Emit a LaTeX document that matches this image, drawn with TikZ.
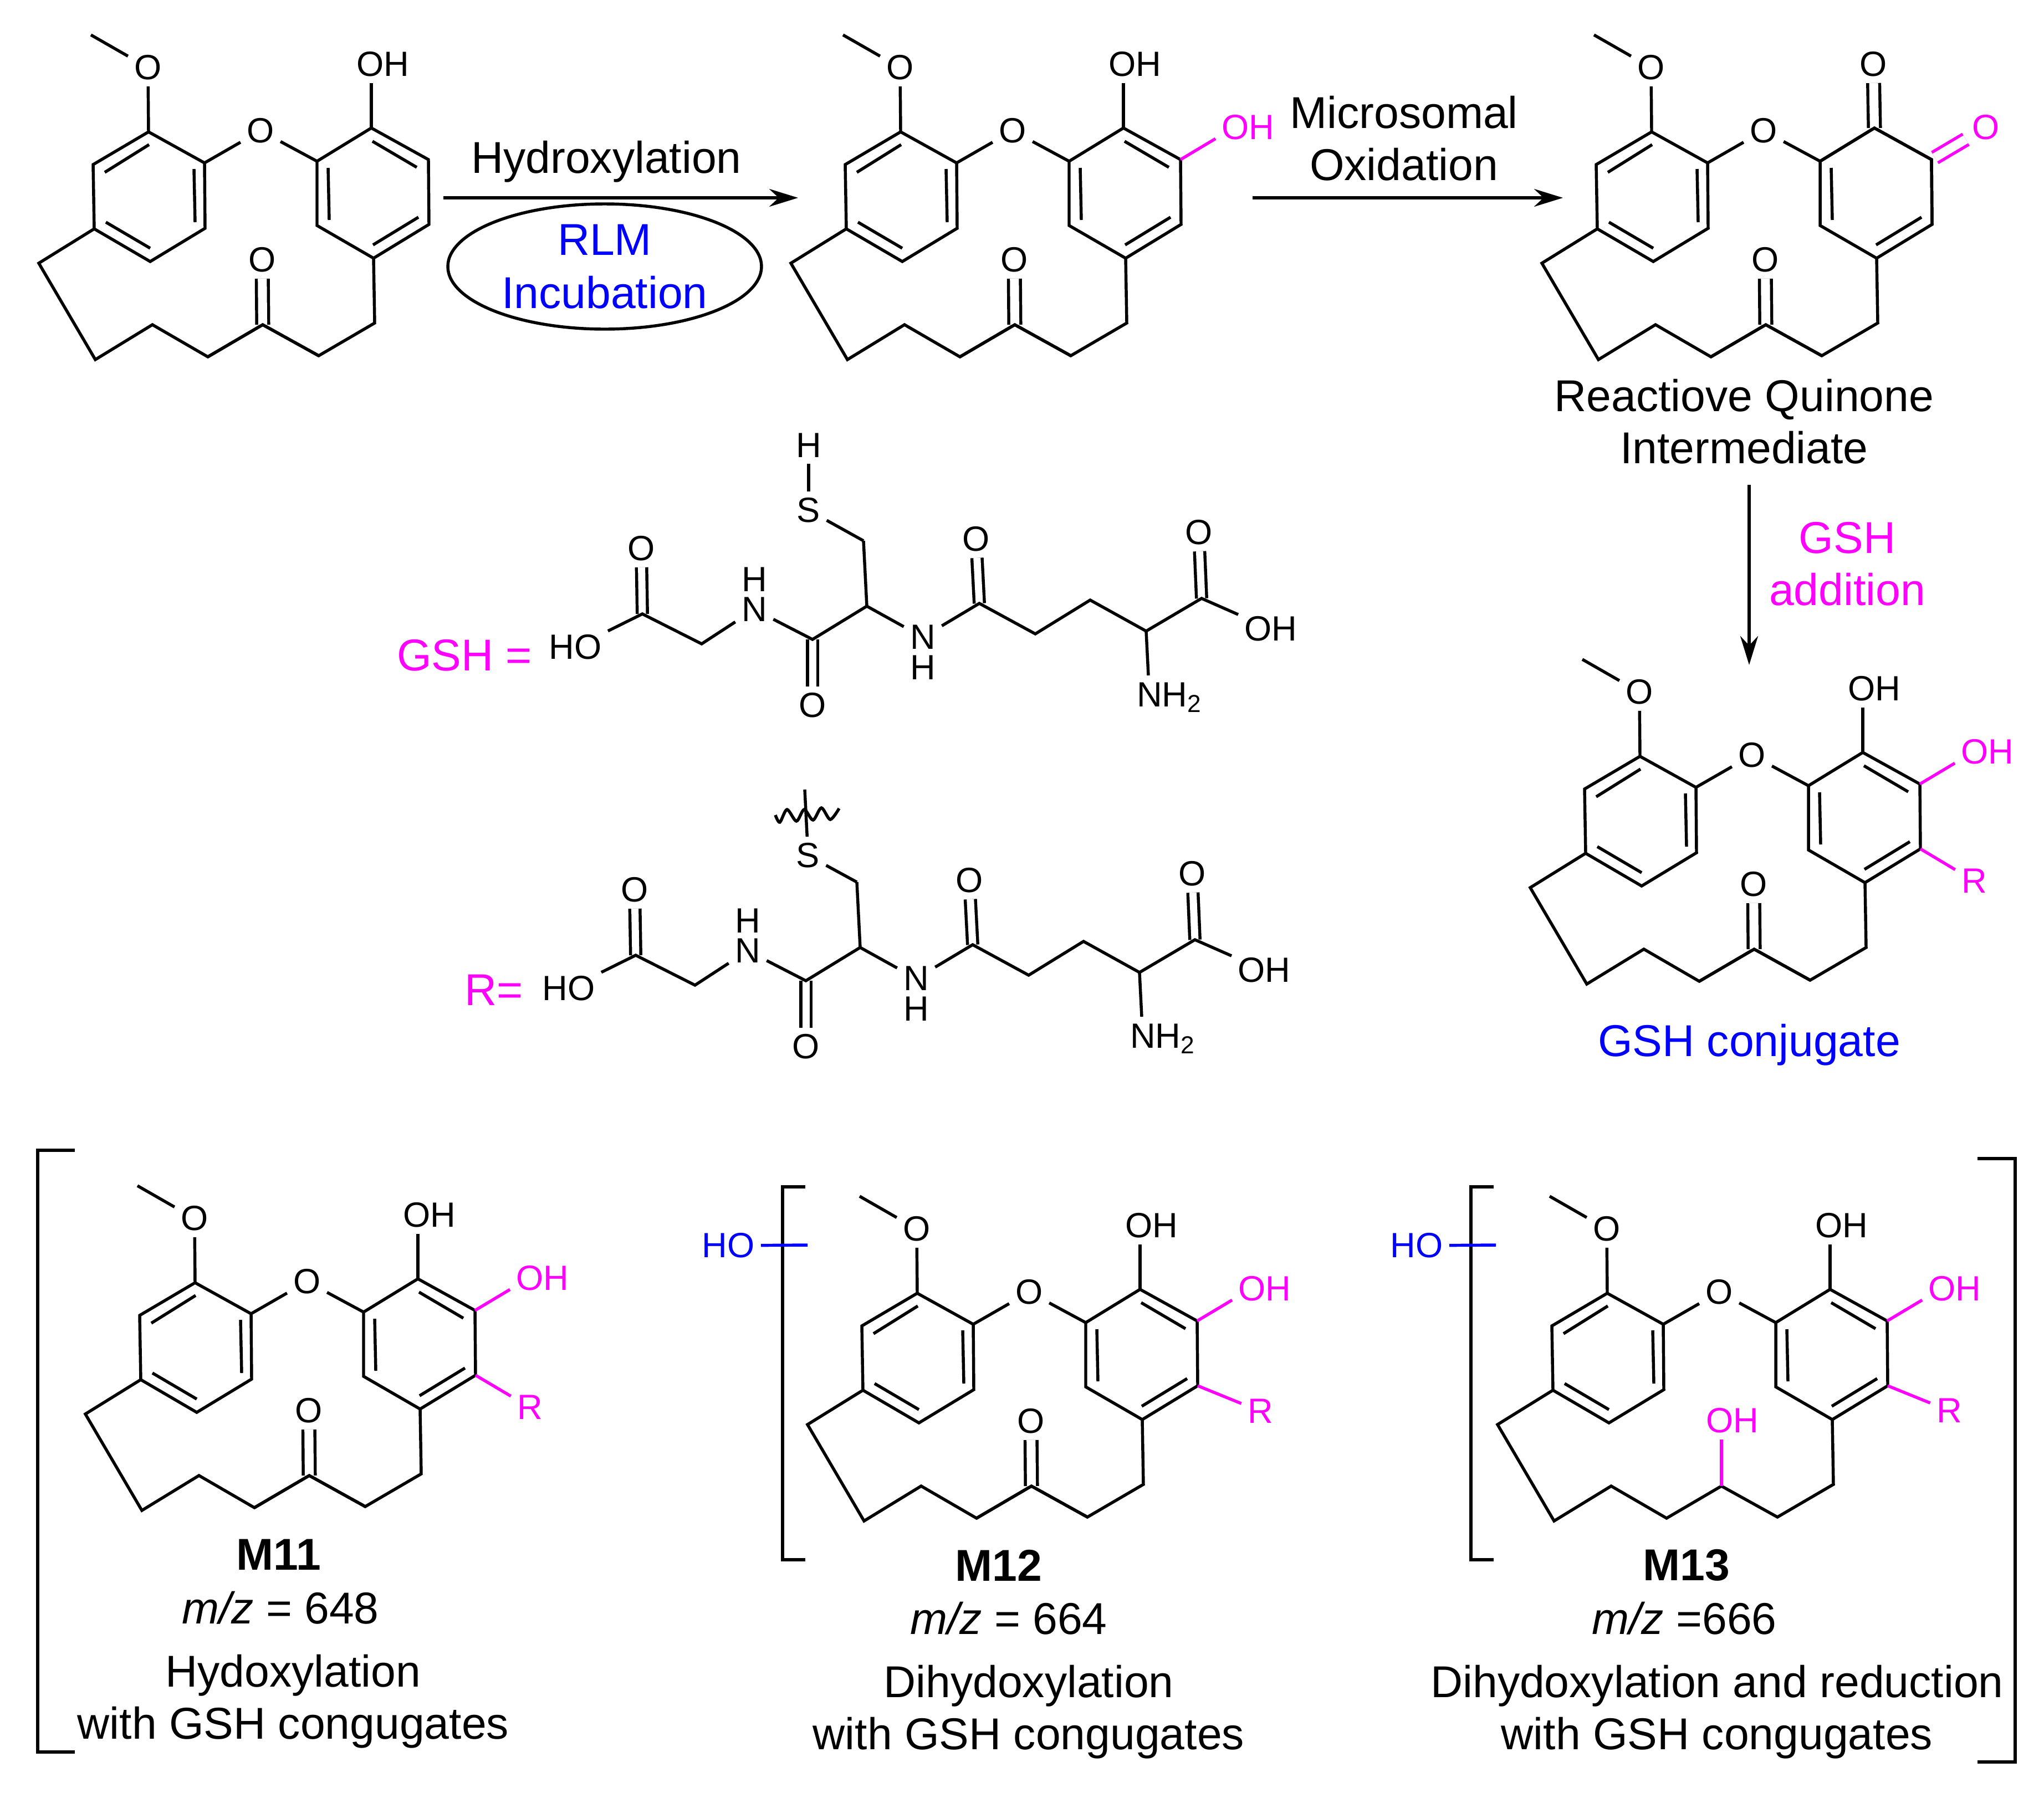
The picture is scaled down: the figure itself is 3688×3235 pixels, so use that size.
\documentclass[tikz,border=0pt]{standalone}
\usepackage{fontspec}
\setmainfont{Liberation Sans}
\usetikzlibrary{arrows.meta,shapes.geometric}
\definecolor{fuchsia}{HTML}{FF00FF}
\definecolor{pureblue}{HTML}{0000FF}
\tikzset{
  atom/.style={font=\fontsize{18}{20}\selectfont, inner sep=2.5pt},
  lbl/.style={font=\fontsize{22.9}{26.7}\selectfont, inner sep=0pt, align=center},
  dbond/.style={double, double distance=4.6pt},
  pbond/.style={double, double distance=3.7pt},
  rxn/.style={-{Stealth[length=5.2mm, width=3.2mm]}},
  hi/.style={draw=fuchsia},
}
\newcommand{\macrocycle}[3]{
  \coordinate (#1o) at (#2,#3);
  \begin{scope}[shift={(#1o)}]
    \coordinate (#1me) at (164,63);
    \coordinate (#1c1) at (268,238);
    \coordinate (#1c2) at (168,297);
    \coordinate (#1c3) at (170,413);
    \coordinate (#1c4) at (271,472);
    \coordinate (#1c5) at (370,412);
    \coordinate (#1c6) at (369,294);
    \coordinate (#1r1) at (572,291);
    \coordinate (#1r2) at (670,231);
    \coordinate (#1r3) at (773,288);
    \coordinate (#1r4) at (774,405);
    \coordinate (#1r5) at (674,466);
    \coordinate (#1r6) at (572,407);
    \coordinate (#1p1) at (70,475);
    \coordinate (#1p2) at (172,649);
    \coordinate (#1p3) at (275,586);
    \coordinate (#1p4) at (375,644);
    \coordinate (#1p5) at (474,586);
    \coordinate (#1p6) at (575,642);
    \coordinate (#1p7) at (676,583);
    \coordinate (#1i1) at (269,261);
    \coordinate (#1i2) at (189,311);
    \coordinate (#1i3) at (191,401);
    \coordinate (#1i4) at (271,448);
    \coordinate (#1i5) at (352,401);
    \coordinate (#1i6) at (350,305);
    \coordinate (#1j1) at (592,303);
    \coordinate (#1j2) at (594,397);
    \coordinate (#1j3) at (755,392);
    \coordinate (#1j4) at (673,442);
    \node[atom] (#1ome) at (267,122) {O};
    \node[atom] (#1oe) at (470,236) {O};
  \end{scope}
  \draw (#1me) -- (#1ome);
  \draw (#1ome) -- (#1c1);
  \draw (#1c6) -- (#1oe);
  \draw (#1oe) -- (#1r1);
  \draw (#1c1) -- (#1c2) -- (#1c3) -- (#1c4) -- (#1c5) -- (#1c6) -- cycle;
  \draw (#1r1) -- (#1r2) -- (#1r3) -- (#1r4) -- (#1r5) -- (#1r6) -- cycle;
  \draw (#1i1) -- (#1i2);
  \draw (#1i3) -- (#1i4);
  \draw (#1i5) -- (#1i6);
  \draw (#1j1) -- (#1j2);
  \draw (#1j3) -- (#1j4);
  \draw (#1c3) -- (#1p1) -- (#1p2) -- (#1p3) -- (#1p4) -- (#1p5) -- (#1p6) -- (#1p7) -- (#1r5);
}
\newcommand{\phenol}[1]{
  \begin{scope}[shift={(#1o)}]
    \node[atom] (#1oh) at (691,116) {OH};
    \coordinate (#1j5) at (672,255);
    \coordinate (#1j6) at (752,302);
  \end{scope}
  \draw (#1oh.south -| #1r2) -- (#1r2);
  \draw (#1j5) -- (#1j6);
}
\newcommand{\ketone}[1]{
  \begin{scope}[shift={(#1o)}]
    \node[atom] (#1ko) at (473,469) {O};
  \end{scope}
  \draw[dbond] (#1ko) -- (#1p5);
  \draw (#1p4) -- (#1p5) -- (#1p6);
}
\newcommand{\quinone}[1]{
  \begin{scope}[shift={(#1o)}]
    \node[atom] (#1q1) at (668,116) {O};
    \node[atom, text=fuchsia] (#1q2) at (871,230) {O};
  \end{scope}
  \draw[dbond] (#1q1) -- (#1r2);
  \draw[dbond, hi, shorten <=2pt] (#1r3) -- (#1q2);
  \draw (#1r1) -- (#1r2) -- (#1r3) -- (#1r4);
}
\newcommand{\catechol}[1]{
  \begin{scope}[shift={(#1o)}]
    \node[atom, text=fuchsia] (#1oh2) at (895,230) {OH};
  \end{scope}
  \draw[hi] (#1r3) -- (#1oh2.199);
}
\newcommand{\sidegroup}[3]{
  \begin{scope}[shift={(#1o)}]
    \node[atom, text=fuchsia] (#1rg) at (#2,#3) {R};
  \end{scope}
  \draw[hi] (#1r4) -- (#1rg);
}
\newcommand{\alcohol}[1]{
  \begin{scope}[shift={(#1o)}]
    \node[atom, text=fuchsia] (#1oh3) at (494,468) {OH};
  \end{scope}
  \draw[hi] (#1oh3.south -| #1p5) -- (#1p5);
}
\newcommand{\peptide}[3]{
  \begin{scope}[shift={(#2,#3)}]
    \coordinate (#1a1) at (1159,1108);
    \coordinate (#1a2) at (1266,1162);
    \coordinate (#1a3) at (1466,1154);
    \coordinate (#1a4) at (1564,1094);
    \coordinate (#1cb) at (1558,976);
    \coordinate (#1a5) at (1767,1089);
    \coordinate (#1a6) at (1868,1144);
    \coordinate (#1a7) at (1967,1083);
    \coordinate (#1a8) at (2068,1139);
    \coordinate (#1a9) at (2168,1080);
    \coordinate (#1nb) at (2072,1219);
    \node[atom] (#1o1) at (1157,990) {O};
    \node[atom] (#1ho) at (1038,1168) {HO};
    \node[atom] (#1n1) at (1361,1100) {N};
    \node[atom, inner sep=0pt] (#1h1) at (1361,1046) {H};
    \node[atom] (#1o2) at (1466,1273) {O};
    \node[atom] (#1n2) at (1665,1150) {N};
    \node[atom, inner sep=0pt] (#1h2) at (1665,1205) {H};
    \node[atom] (#1o3) at (1761,973) {O};
    \node[atom] (#1o4) at (2163,961) {O};
    \node[atom] (#1oh) at (2293,1135) {OH};
    \node[atom] (#1nh) at (2110,1259) {NH\textsubscript{2}};
  \end{scope}
  \draw[pbond] (#1o1) -- (#1a1);
  \draw[pbond] (#1a3) -- (#1o2);
  \draw[pbond] (#1o3) -- (#1a5);
  \draw[pbond] (#1o4) -- (#1a9);
  \draw (#1ho) -- (#1a1) -- (#1a2) -- (#1n1);
  \draw (#1n1) -- (#1a3) -- (#1a4) -- (#1n2);
  \draw (#1n2) -- (#1a5) -- (#1a6) -- (#1a7) -- (#1a8) -- (#1a9) -- (#1oh);
  \draw (#1a4) -- (#1cb);
  \draw (#1a8) -- (#1nb);
}
\begin{document}
\begin{tikzpicture}[x=0.1mm, y=-0.1mm, line width=1.55pt]
\useasboundingbox (0,0) rectangle (3688,3235);

\macrocycle{a}{0}{0}
\phenol{a}
\ketone{a}
\macrocycle{b}{1357}{0}
\phenol{b}
\ketone{b}
\catechol{b}
\macrocycle{q}{2712}{0}
\ketone{q}
\quinone{q}
\macrocycle{g}{2691}{1127}
\phenol{g}
\ketone{g}
\catechol{g}
\sidegroup{g}{871}{463}
\macrocycle{k}{84}{2077}
\phenol{k}
\ketone{k}
\catechol{k}
\sidegroup{k}{872}{463}
\macrocycle{l}{1387}{2096}
\phenol{l}
\ketone{l}
\catechol{l}
\sidegroup{l}{887}{451}
\macrocycle{m}{2632}{2096}
\phenol{m}
\alcohol{m}
\catechol{m}
\sidegroup{m}{885}{450}

\coordinate (s1) at (800,357);
\coordinate (e1) at (1440,357);
\coordinate (s2) at (2260,357);
\coordinate (e2) at (2820,357);
\coordinate (s3) at (3156,875);
\coordinate (e3) at (3156,1200);
\draw[rxn] (s1) -- (e1);
\draw[rxn] (s2) -- (e2);
\draw[rxn] (s3) -- (e3);

\node[lbl] (hyd) at (1094,292) {Hydroxylation};
\node[draw, ellipse, lbl, text=pureblue, font=\fontsize{22.9}{27.2}\selectfont, minimum width=5.66cm, minimum height=2.26cm] (rlm) at (1091,481) {RLM\\Incubation};
\node[lbl] (mic) at (2533,250) {Microsomal\\Oxidation};
\node[lbl] (rqi) at (3147,761) {Reactiove Quinone\\Intermediate};
\node[lbl, text=fuchsia] (add) at (3333,1018) {GSH\\addition};
\node[lbl, text=pureblue] (conj) at (3156,1886) {GSH conjugate};
\node[lbl, text=fuchsia] (gsh) at (838,1183) {GSH =};
\node[lbl, text=fuchsia] (req) at (891,1787) {R=};

\peptide{u}{0}{0}
\node[atom] (us) at (1459,921) {S};
\node[atom] (uh) at (1459,804) {H};
\draw (ucb) -- (us);
\draw (us) -- (uh);
\peptide{v}{-12}{616}
\node[atom] (vs) at (1458,1544) {S};
\coordinate (vt) at (1452,1425);
\draw (vs) -- (vt);
\draw (vcb) -- (vs);
\draw plot[smooth] coordinates {(1399,1471) (1407,1484) (1420,1461) (1437,1482) (1451,1461) (1467,1480) (1482,1458) (1498,1479) (1514,1459)};

\coordinate (k1) at (135,2076);
\coordinate (k2) at (68,2076);
\coordinate (k3) at (68,3162);
\coordinate (k4) at (135,3162);
\draw (k1) -- (k2) -- (k3) -- (k4);
\coordinate (l1) at (1453,2142);
\coordinate (l2) at (1412,2142);
\coordinate (l3) at (1412,2815);
\coordinate (l4) at (1453,2815);
\draw (l1) -- (l2) -- (l3) -- (l4);
\coordinate (m1) at (2695,2142);
\coordinate (m2) at (2654,2142);
\coordinate (m3) at (2654,2815);
\coordinate (m4) at (2695,2815);
\draw (m1) -- (m2) -- (m3) -- (m4);
\coordinate (n1) at (3568,2091);
\coordinate (n2) at (3636,2091);
\coordinate (n3) at (3636,3180);
\coordinate (n4) at (3568,3180);
\draw (n1) -- (n2) -- (n3) -- (n4);

\node[atom, text=pureblue] (lho) at (1314,2248) {HO};
\coordinate (lt) at (1457,2247);
\draw[draw=pureblue] (lho) -- (lt);
\node[atom, text=pureblue] (mho) at (2556,2248) {HO};
\coordinate (mt) at (2699,2247);
\draw[draw=pureblue] (mho) -- (mt);

\node[lbl] (m11) at (503,2806) {\textbf{M11}};
\node[lbl] (z11) at (506,2902) {\textit{m/z} = 648};
\node[lbl] (t11) at (529,3071) {Hydoxylation\\with GSH congugates};
\node[lbl] (m12) at (1802,2825) {\textbf{M12}};
\node[lbl] (z12) at (1820,2921) {\textit{m/z} = 664};
\node[lbl] (t12) at (1856,3090) {Dihydoxylation\\with GSH congugates};
\node[lbl] (m13) at (3043,2825) {\textbf{M13}};
\node[lbl] (z13) at (3039,2921) {\textit{m/z} =666};
\node[lbl] (t13) at (3098,3090) {Dihydoxylation and reduction\\with GSH congugates};
\end{tikzpicture}
\end{document}
